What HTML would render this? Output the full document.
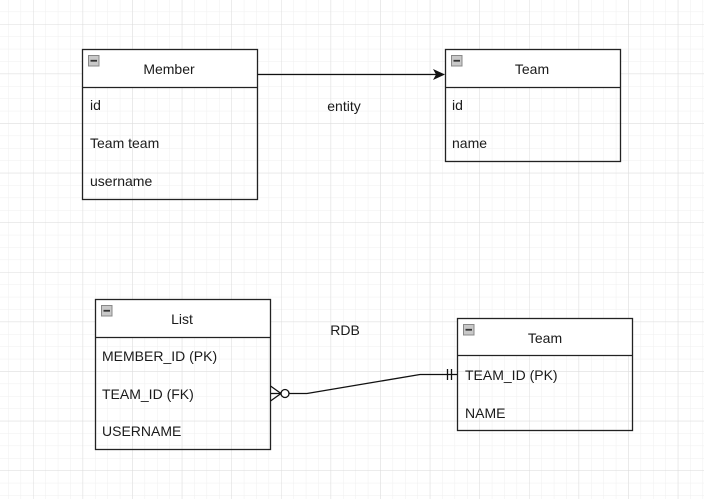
<!DOCTYPE html>
<html><head><meta charset="utf-8"><style>
html,body{margin:0;padding:0;background:#fff;}
svg{display:block;}
text{font-family:"Liberation Sans",Arial,sans-serif;font-size:14px;fill:#1a1a1a;}
</style></head><body>
<svg width="704" height="499" viewBox="0 0 704 499" xmlns="http://www.w3.org/2000/svg">
<defs>
<pattern id="minor" x="8.2" y="11.6" width="12.4" height="12.4" patternUnits="userSpaceOnUse">
<path d="M0 0H12.4M0 0V12.4" stroke="#efefef" stroke-width="1" fill="none"/>
</pattern>
<pattern id="major" x="33" y="24" width="49.6" height="49.6" patternUnits="userSpaceOnUse">
<path d="M0 0H49.6M0 0V49.6" stroke="#dcdcdc" stroke-width="1" fill="none"/>
</pattern>
<g id="minus"><rect x="0" y="0" width="10.5" height="10.5" fill="#c8c8c8" stroke="#888" stroke-width="1"/><line x1="2" y1="5.25" x2="8.5" y2="5.25" stroke="#333" stroke-width="1.8"/></g>
</defs>
<rect width="704" height="499" fill="#fff"/>
<rect width="704" height="499" fill="url(#minor)"/>
<rect width="704" height="499" fill="url(#major)"/>

<!-- Member -->
<rect x="82.5" y="49.5" width="175" height="38" fill="#fff"/>
<rect x="82.5" y="49.5" width="175" height="150" fill="none" stroke="#222" stroke-width="1.3"/>
<line x1="82.5" y1="87.5" x2="257.5" y2="87.5" stroke="#222" stroke-width="1.3"/>
<use href="#minus" x="88.5" y="55.5"/>
<text x="169" y="74" text-anchor="middle">Member</text>
<text x="90" y="110">id</text>
<text x="90" y="148">Team team</text>
<text x="90" y="186">username</text>

<!-- Team top -->
<rect x="445.5" y="49.5" width="175" height="38" fill="#fff"/>
<rect x="445.5" y="49.5" width="175" height="112" fill="none" stroke="#222" stroke-width="1.3"/>
<line x1="445.5" y1="87.5" x2="620.5" y2="87.5" stroke="#222" stroke-width="1.3"/>
<use href="#minus" x="451.5" y="55.5"/>
<text x="532" y="74" text-anchor="middle">Team</text>
<text x="452" y="110">id</text>
<text x="452" y="148">name</text>

<!-- arrow -->
<line x1="257.5" y1="74.5" x2="438" y2="74.5" stroke="#111" stroke-width="1.3"/>
<path d="M445 74.5 L433 69 L436 74.5 L433 80 Z" fill="#111"/>
<text x="344" y="111" text-anchor="middle">entity</text>

<!-- List -->
<rect x="95.5" y="299.5" width="175" height="38" fill="#fff"/>
<rect x="95.5" y="299.5" width="175" height="150" fill="none" stroke="#222" stroke-width="1.3"/>
<line x1="95.5" y1="337.5" x2="270.5" y2="337.5" stroke="#222" stroke-width="1.3"/>
<use href="#minus" x="101.5" y="305.5"/>
<text x="182" y="324" text-anchor="middle">List</text>
<text x="102" y="361">MEMBER_ID (PK)</text>
<text x="102" y="399">TEAM_ID (FK)</text>
<text x="102" y="436">USERNAME</text>
<text x="345" y="335" text-anchor="middle">RDB</text>

<!-- Team bottom -->
<rect x="457.5" y="318.5" width="175" height="37" fill="#fff"/>
<rect x="457.5" y="318.5" width="175" height="112" fill="none" stroke="#222" stroke-width="1.3"/>
<line x1="457.5" y1="355.5" x2="632.5" y2="355.5" stroke="#222" stroke-width="1.3"/>
<use href="#minus" x="463.5" y="324.5"/>
<text x="545" y="343" text-anchor="middle">Team</text>
<text x="465" y="380">TEAM_ID (PK)</text>
<text x="465" y="418">NAME</text>

<!-- ER connector -->
<g stroke="#111" stroke-width="1.3" fill="none">
<path d="M289 393.5 L307 393.5 L420 374.5 L457 374.5"/>
<path d="M270.5 386 L281 393.5 L270.5 401"/>
<line x1="270.5" y1="393.5" x2="281" y2="393.5"/>
<circle cx="285" cy="393.5" r="4" fill="#fff"/>
<line x1="447.5" y1="369" x2="447.5" y2="380"/>
<line x1="451.5" y1="369" x2="451.5" y2="380"/>
</g>
</svg>
</body></html>
